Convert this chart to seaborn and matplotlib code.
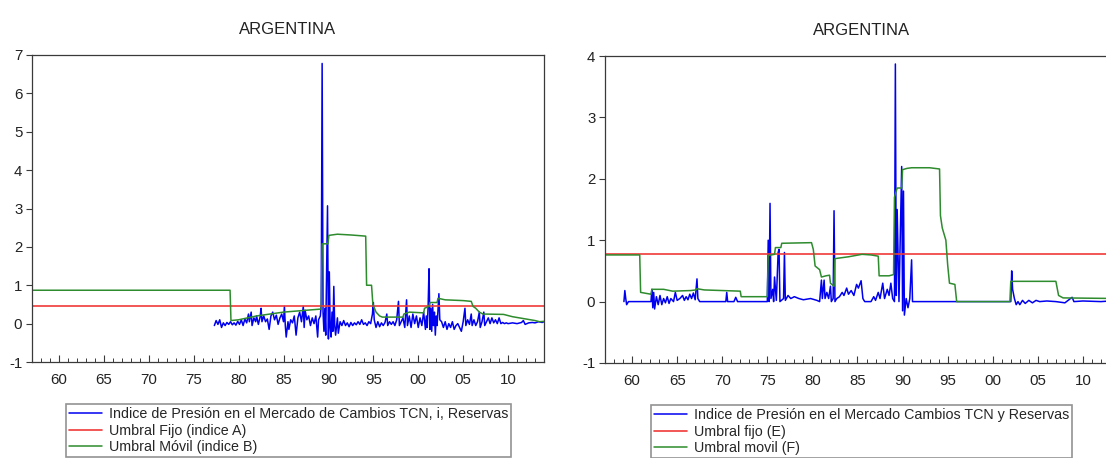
import numpy as np
import pandas as pd
import matplotlib
matplotlib.use("Agg")
import matplotlib.pyplot as plt
from matplotlib.ticker import MultipleLocator, FuncFormatter
import seaborn as sns

sns.set_style("white")
plt.rcParams['font.family'] = ['Liberation Sans', 'DejaVu Sans']
plt.rcParams['axes.unicode_minus'] = False

# ---------------- DATA: left panel ----------------
left_title = "ARGENTINA"
left_labels = ["Indice de Presión en el Mercado de Cambios TCN, i, Reservas",
               "Umbral Fijo (indice A)",
               "Umbral Móvil (indice B)"]
left_fixed = 0.47

left_idx_year = [
    1977.3, 1977.5, 1977.7, 1977.9, 1978.1, 1978.3, 1978.5, 1978.7, 1978.9, 1979.1,
    1979.3, 1979.5, 1979.7, 1979.9, 1980.1, 1980.3, 1980.5, 1980.7, 1980.9, 1981.1,
    1981.2, 1981.4, 1981.5, 1981.7, 1981.9, 1982.0, 1982.2, 1982.4, 1982.5, 1982.6,
    1982.8, 1983.0, 1983.2, 1983.4, 1983.6, 1983.8, 1984.0, 1984.2, 1984.4, 1984.6,
    1984.8, 1985.0, 1985.1, 1985.2, 1985.3, 1985.5, 1985.6, 1985.8, 1986.0, 1986.2,
    1986.4, 1986.6, 1986.8, 1987.0, 1987.2, 1987.3, 1987.4, 1987.6, 1987.8, 1988.0,
    1988.2, 1988.4, 1988.6, 1988.8, 1988.9, 1989.1, 1989.2, 1989.3, 1989.4, 1989.5,
    1989.6, 1989.7, 1989.9, 1990.0, 1990.1, 1990.2, 1990.3, 1990.4, 1990.5, 1990.6,
    1990.7, 1990.8, 1991.0, 1991.1, 1991.3, 1991.5, 1991.7, 1991.9, 1992.1, 1992.3,
    1992.5, 1992.7, 1992.9, 1993.1, 1993.3, 1993.5, 1993.7, 1993.9, 1994.1, 1994.3,
    1994.5, 1994.7, 1994.9, 1995.0, 1995.1, 1995.3, 1995.5, 1995.7, 1995.9, 1996.1,
    1996.3, 1996.5, 1996.6, 1996.8, 1997.0, 1997.2, 1997.4, 1997.6, 1997.8, 1997.9,
    1998.1, 1998.3, 1998.5, 1998.7, 1998.8, 1999.0, 1999.2, 1999.4, 1999.6, 1999.8,
    2000.0, 2000.2, 2000.4, 2000.6, 2000.8, 2000.9, 2001.0, 2001.1, 2001.2, 2001.3,
    2001.4, 2001.5, 2001.6, 2001.7, 2001.8, 2001.9, 2002.0, 2002.1, 2002.3, 2002.4,
    2002.6, 2002.8, 2003.0, 2003.2, 2003.4, 2003.6, 2003.8, 2004.0, 2004.2, 2004.4,
    2004.6, 2004.8, 2005.0, 2005.2, 2005.3, 2005.5, 2005.7, 2005.9, 2006.0, 2006.2,
    2006.4, 2006.6, 2006.8, 2006.9, 2007.1, 2007.3, 2007.4, 2007.6, 2007.8, 2008.0,
    2008.2, 2008.4, 2008.6, 2008.8, 2009.0, 2009.2, 2009.4, 2009.6, 2009.8, 2010.0,
    2010.5, 2011.0, 2011.5, 2011.7, 2011.9, 2012.3, 2012.7, 2013.0, 2013.4, 2013.8,
    2014.0]
left_idx_val = [
    -0.05, 0.08, -0.02, 0.10, -0.10, 0.02, -0.05, 0.03, -0.02, 0.05,
    -0.03, 0.02, -0.04, 0.06, -0.02, 0.10, -0.05, 0.12, 0.02, 0.25,
    0.05, 0.30, -0.05, 0.15, 0.05, 0.20, -0.02, 0.18, 0.40, 0.05,
    0.20, 0.05, 0.12, -0.15, 0.20, 0.30, 0.10, 0.22, -0.02, 0.15,
    0.25, 0.05, 0.45, -0.05, -0.35, 0.05, -0.15, 0.10, 0.02, 0.20,
    -0.30, 0.15, 0.30, 0.05, 0.45, -0.10, 0.35, 0.10, 0.20, -0.05,
    0.15, 0.00, 0.20, -0.35, 0.10, 0.20, 0.50, 6.78, 0.30, -0.20,
    0.40, -0.30, 3.07, -0.40, 1.35, -0.10, -0.35, 0.30, -0.20, 0.97,
    -0.05, -0.30, 0.15, -0.25, 0.05, -0.05, 0.08, -0.05, 0.02, -0.08,
    0.03, -0.05, 0.02, -0.03, 0.05, -0.02, 0.10, -0.02, 0.02, -0.05,
    0.05, 0.00, 0.25, 0.55, 0.10, -0.10, 0.05, -0.08, 0.02, -0.05,
    0.03, 0.25, -0.05, 0.05, -0.02, 0.05, -0.05, 0.10, 0.58, -0.05,
    0.05, 0.15, -0.10, 0.62, -0.05, 0.20, -0.10, 0.25, 0.00, 0.20,
    -0.10, 0.15, -0.05, 0.30, -0.15, 0.20, -0.10, 0.45, 1.43, -0.15,
    0.40, -0.20, 0.50, -0.05, 0.30, -0.30, 0.20, -0.05, 0.78, 0.10,
    0.05, -0.10, 0.05, -0.15, 0.00, -0.10, 0.05, -0.15, -0.05, 0.00,
    -0.10, -0.20, 0.05, 0.40, -0.05, 0.10, -0.02, 0.25, -0.05, 0.10,
    -0.05, 0.05, 0.30, -0.10, 0.05, 0.30, -0.05, 0.05, 0.15, 0.00,
    0.15, 0.02, 0.10, 0.00, 0.15, 0.00, 0.03, 0.00, 0.02, 0.00,
    0.02, 0.00, 0.03, 0.08, -0.02, 0.02, 0.03, 0.02, 0.05, 0.03,
    0.05]

left_mov_year = [
    1957.0, 1979.05, 1979.15, 1980.0, 1982.0, 1985.0, 1989.2, 1989.3, 1989.95, 1990.05,
    1991.0, 1992.5, 1994.15, 1994.25, 1994.8, 1994.95, 1995.3, 1995.7, 1996.0, 1998.3,
    1998.4, 1999.0, 2000.6, 2000.7, 2001.2, 2001.3, 2002.1, 2002.2, 2003.0, 2005.0,
    2005.9, 2006.1, 2006.4, 2006.8, 2007.2, 2009.5, 2010.5, 2012.0, 2013.0, 2013.5,
    2014.0]
left_mov_val = [
    0.87, 0.87, 0.08, 0.10, 0.20, 0.30, 0.38, 2.08, 2.08, 2.30,
    2.33, 2.31, 2.28, 1.00, 1.00, 0.50, 0.30, 0.20, 0.17, 0.17,
    0.25, 0.30, 0.28, 0.40, 0.45, 0.55, 0.55, 0.66, 0.62, 0.60,
    0.58, 0.45, 0.40, 0.30, 0.25, 0.24, 0.18, 0.12, 0.08, 0.05,
    0.06]

# ---------------- DATA: right panel ----------------
right_title = "ARGENTINA"
right_labels = ["Indice de Presión en el Mercado Cambios TCN y Reservas",
                "Umbral fijo (E)",
                "Umbral movil (F)"]
right_fixed = 0.77

right_idx_year = [
    1959.1, 1959.2, 1959.3, 1959.4, 1959.6, 1962.1, 1962.2, 1962.3, 1962.4, 1962.5,
    1962.7, 1962.9, 1963.1, 1963.3, 1963.5, 1963.7, 1963.9, 1964.1, 1964.3, 1964.6,
    1964.8, 1965.0, 1965.3, 1965.6, 1965.8, 1966.0, 1966.2, 1966.4, 1966.6, 1966.8,
    1967.0, 1967.2, 1967.3, 1967.5, 1970.4, 1970.5, 1970.6, 1971.3, 1971.5, 1971.7,
    1975.0, 1975.1, 1975.2, 1975.3, 1975.4, 1975.6, 1975.7, 1975.8, 1976.0, 1976.2,
    1976.3, 1976.4, 1976.8, 1976.9, 1977.0, 1977.3, 1977.6, 1978.0, 1978.5, 1979.0,
    1979.8, 1980.5, 1980.8, 1981.0, 1981.1, 1981.3, 1981.4, 1981.6, 1981.8, 1982.0,
    1982.1, 1982.3, 1982.4, 1982.5, 1982.7, 1983.0, 1983.3, 1983.5, 1983.8, 1984.0,
    1984.3, 1984.6, 1984.9, 1985.1, 1985.4, 1985.6, 1985.8, 1986.5, 1986.8, 1987.0,
    1987.3, 1987.5, 1987.8, 1988.0, 1988.3, 1988.5, 1988.7, 1988.9, 1989.1, 1989.2,
    1989.3, 1989.4, 1989.6, 1989.9, 1990.0, 1990.1, 1990.2, 1990.4, 1990.6, 1990.8,
    1991.0, 1991.1, 2002.0, 2002.1, 2002.2, 2002.4, 2002.6, 2002.8, 2003.0, 2003.3,
    2003.6, 2004.0, 2004.4, 2004.8, 2005.2, 2006.0, 2007.0, 2008.0, 2008.8, 2009.0,
    2010.0, 2012.0, 2014.0]
right_idx_val = [
    0.00, 0.18, 0.05, -0.05, 0.00, 0.00, 0.20, -0.10, 0.15, -0.12,
    0.08, -0.05, 0.10, -0.05, 0.05, -0.02, 0.08, -0.03, 0.05, 0.00,
    0.15, 0.02, 0.05, 0.10, 0.02, 0.08, 0.03, 0.12, 0.05, 0.14,
    0.03, 0.37, 0.05, 0.00, 0.00, 0.15, 0.00, 0.00, 0.07, 0.00,
    0.00, 1.00, 0.00, 1.60, 0.05, 0.20, 0.00, 0.40, 0.02, 0.80,
    0.85, 0.00, 0.05, 0.80, 0.02, 0.10, 0.05, 0.08, 0.05, 0.03,
    0.05, 0.02, 0.00, 0.35, 0.05, 0.35, 0.05, 0.15, 0.05, 0.25,
    0.00, 0.05, 1.48, 0.00, 0.05, 0.08, 0.15, 0.10, 0.22, 0.12,
    0.18, 0.10, 0.28, 0.22, 0.34, 0.05, 0.00, 0.00, 0.08, 0.02,
    0.15, 0.05, 0.30, 0.05, 0.20, 0.10, 0.30, 0.05, 0.00, 3.87,
    0.10, 1.50, 0.00, 2.20, -0.15, 1.80, -0.22, 0.05, -0.10, 0.05,
    0.68, 0.00, 0.00, 0.50, 0.20, 0.05, -0.05, 0.00, -0.05, 0.02,
    -0.03, 0.02, -0.02, 0.02, 0.00, 0.01, 0.00, -0.02, 0.07, 0.00,
    0.01, 0.00, 0.02]

right_mov_year = [
    1957.0, 1960.85, 1960.95, 1962.1, 1962.2, 1963.5, 1964.5, 1966.5, 1967.1, 1967.2,
    1968.0, 1972.0, 1972.1, 1975.0, 1975.1, 1975.8, 1975.9, 1976.5, 1976.6, 1979.9,
    1980.1, 1980.3, 1980.8, 1981.0, 1981.5, 1981.9, 1982.0, 1982.4, 1982.5, 1984.0,
    1985.5, 1986.5, 1987.3, 1987.4, 1988.5, 1989.0, 1989.1, 1989.4, 1989.9, 1990.0,
    1990.5, 1991.0, 1993.0, 1994.1, 1994.2, 1994.4, 1994.8, 1995.0, 1995.2, 1995.8,
    1996.0, 2001.9, 2002.0, 2007.0, 2007.3, 2007.8, 2014.0]
right_mov_val = [
    0.76, 0.76, 0.15, 0.12, 0.20, 0.20, 0.17, 0.18, 0.19, 0.21,
    0.19, 0.17, 0.08, 0.08, 0.75, 0.77, 0.88, 0.88, 0.95, 0.96,
    0.85, 0.58, 0.52, 0.40, 0.42, 0.43, 0.30, 0.25, 0.70, 0.73,
    0.77, 0.76, 0.74, 0.42, 0.42, 0.44, 1.70, 1.85, 1.85, 2.15,
    2.17, 2.18, 2.18, 2.16, 1.40, 1.20, 1.00, 0.60, 0.30, 0.28,
    0.00, 0.00, 0.33, 0.33, 0.10, 0.06, 0.05]

# ---------------- STYLE ----------------
BLUE = "#0000F0"
RED = "#F03A3A"
GREEN = "#2E8B2E"
SPINE = "#3a3a3a"


def year_fmt(v, pos):
    return "%02d" % (int(round(v)) % 100)


def draw(ax, title, labels, iy, iv, fixed, my, mv, ylim, legx):
    sns.lineplot(x=iy, y=iv, ax=ax, color=BLUE, lw=1.1, estimator=None,
                 sort=False, label=labels[0])
    ax.axhline(fixed, color=RED, lw=1.2, label=labels[1])
    sns.lineplot(x=my, y=mv, ax=ax, color=GREEN, lw=1.1, estimator=None,
                 sort=False, label=labels[2])
    ax.set_xlim(1957.0, 2014.0)
    ax.set_ylim(*ylim)
    ax.set_xlabel("")
    ax.set_ylabel("")
    ax.set_title(title, fontsize=12, pad=15, color="#222222")
    ax.set_xticks([1960, 1965, 1970, 1975, 1980, 1985, 1990, 1995, 2000, 2005, 2010])
    ax.xaxis.set_minor_locator(MultipleLocator(1))
    ax.xaxis.set_major_formatter(FuncFormatter(year_fmt))
    ax.yaxis.set_major_locator(MultipleLocator(1))
    ax.tick_params(axis="x", which="major", direction="in", length=5,
                   width=0.8, color=SPINE, labelsize=10.8, pad=8, labelcolor="#222222")
    ax.tick_params(axis="x", which="minor", direction="in", length=3,
                   width=0.7, color=SPINE)
    ax.tick_params(axis="y", which="major", direction="out", length=4,
                   width=0.8, color=SPINE, labelsize=10.8, pad=3, left=True,
                   labelcolor="#222222")
    ax.tick_params(bottom=True, which="both")
    for s in ax.spines.values():
        s.set_visible(True)
        s.set_color(SPINE)
        s.set_linewidth(0.9)
    leg = ax.legend(loc="upper left", bbox_to_anchor=(legx, -0.138),
                    bbox_transform=ax.transAxes,
                    borderaxespad=0, fontsize=10.3, frameon=True, fancybox=False,
                    shadow=False, handlelength=2.3, handletextpad=0.5,
                    labelspacing=0.16, borderpad=0.2)
    leg.get_frame().set_edgecolor("#777777")
    leg.get_frame().set_linewidth(1.2)
    return leg


fig = plt.figure(figsize=(11.06, 4.58), dpi=100)
ax1 = fig.add_axes([32 / 1106, 1 - 362 / 458, 512 / 1106, 307 / 458])
ax2 = fig.add_axes([605 / 1106, 1 - 363 / 458, 514 / 1106, 307 / 458])

draw(ax1, left_title, left_labels, left_idx_year, left_idx_val, left_fixed,
     left_mov_year, left_mov_val, (-1, 7), 0.066)
draw(ax2, right_title, right_labels, right_idx_year, right_idx_val, right_fixed,
     right_mov_year, right_mov_val, (-1, 4), 0.09)

fig.savefig("out.png", dpi=100)
